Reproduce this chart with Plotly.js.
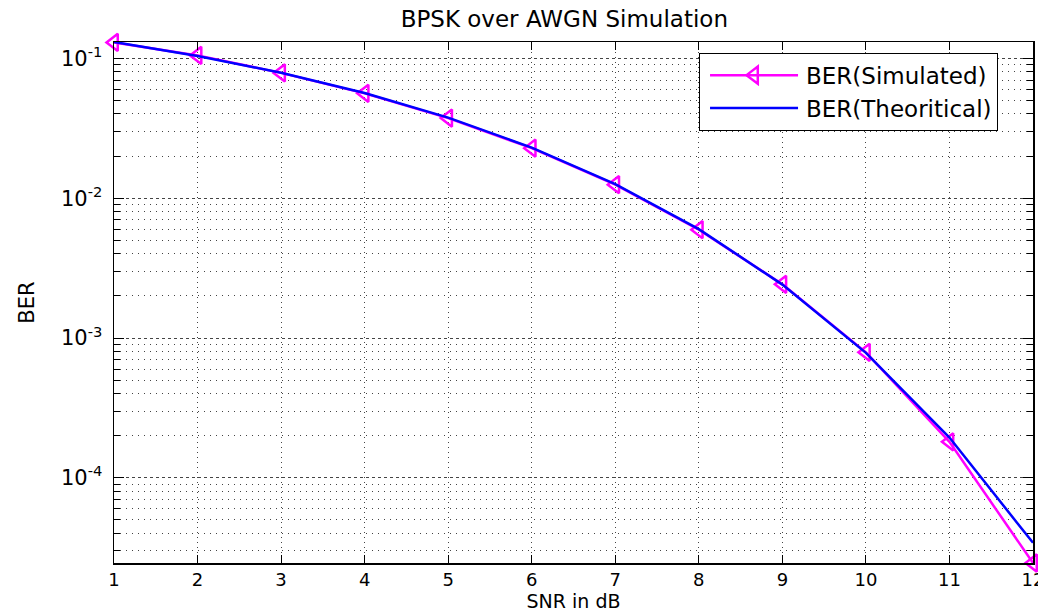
<!DOCTYPE html>
<html>
<head>
<meta charset="utf-8">
<script src="https://cdn.plot.ly/plotly-3.0.1.min.js"></script>
<style>
  html, body { margin: 0; padding: 0; background: #fff; }
  #chart { width: 1038px; height: 615px; }
</style>
</head>
<body>
<div id="chart"></div>
<script>
// ---- data ----
const snrDb = [1, 2, 3, 4, 5, 6, 7, 8, 9, 10, 11, 12];
const berSimulated = [0.1300, 0.1050, 0.0787, 0.0562, 0.0374, 0.0228, 0.0125, 0.00595, 0.00242, 0.00079, 0.000181, 0.0000246];
const berTheoretical = [0.1309, 0.1040, 0.0789, 0.0565, 0.0377, 0.0230, 0.01259, 0.00601, 0.00241, 0.000783, 0.000194, 0.0000343];
const yTickVals = [1e-4, 1e-3, 1e-2, 1e-1];
const yTickText = ['10<sup>-4</sup>', '10<sup>-3</sup>', '10<sup>-2</sup>', '10<sup>-1</sup>'];
const seriesNames = ['BER(Simulated)', 'BER(Theoritical)'];

const minorVals = [];
[-5, -4, -3, -2, -1].forEach(function (e) {
  for (let m = 2; m <= 9; m++) minorVals.push(m * Math.pow(10, e));
});

const FONT = 'DejaVu Sans, Liberation Sans, Arial, sans-serif';

const traces = [
  {
    x: snrDb, y: berSimulated, name: seriesNames[0], type: 'scatter', mode: 'lines+markers',
    line: { color: '#ff00ff', width: 2.5 },
    marker: { symbol: 'triangle-left-open', size: 15, color: '#ff00ff', line: { width: 2.5, color: '#ff00ff' } },
    cliponaxis: false
  },
  {
    x: snrDb, y: berTheoretical, name: seriesNames[1], type: 'scatter', mode: 'lines',
    line: { color: '#0000ff', width: 2.5 },
    cliponaxis: false
  }
];

const gridCol = '#444';
const layout = {
  width: 1038, height: 615,
  margin: { l: 114, r: 5, t: 42, b: 52 },
  paper_bgcolor: '#fff', plot_bgcolor: '#fff',
  font: { family: FONT, size: 20, color: '#000' },
  title: { text: 'BPSK over AWGN Simulation', font: { family: FONT, size: 23, color: '#000' },
           x: 0.49, xref: 'paper', xanchor: 'center', y: 0.97, yref: 'container', yanchor: 'middle' },
  xaxis: {
    range: [1, 12], tickmode: 'array', tickvals: snrDb,
    ticks: 'inside', ticklen: 8, tickwidth: 1, tickcolor: '#000',
    showline: true, linecolor: '#000', linewidth: 1.5, mirror: 'allticks',
    showgrid: true, gridcolor: gridCol, gridwidth: 1, griddash: '1px,4px',
    zeroline: false, ticklabeloverflow: 'allow', ticklabelstandoff: 0,
    tickfont: { family: FONT, size: 18, color: '#000' },
    title: { text: 'SNR in dB', font: { family: FONT, size: 19, color: '#000' }, standoff: 1 }
  },
  yaxis: {
    type: 'log', range: [Math.log10(0.0000246), Math.log10(0.1309)],
    tickmode: 'array', tickvals: yTickVals, ticktext: yTickText,
    ticks: 'inside', ticklen: 10, tickwidth: 1, tickcolor: '#000',
    showline: true, linecolor: '#000', linewidth: 1.5, mirror: 'allticks',
    showgrid: true, gridcolor: gridCol, gridwidth: 1, griddash: '3px,3px',
    zeroline: false,
    ticklabelstandoff: 6,
    tickfont: { family: FONT, size: 21, color: '#000' },
    minor: { tickmode: 'array', tickvals: minorVals, ticks: 'inside', ticklen: 6, tickcolor: '#000',
             showgrid: true, gridcolor: gridCol, gridwidth: 1, griddash: '1px,5px' },
    title: { text: 'BER', font: { family: FONT, size: 21, color: '#000' }, standoff: 20 }
  },
  showlegend: true,
  legend: {
    x: 0.6366, y: 0.9795, xanchor: 'left', yanchor: 'top',
    bgcolor: '#fff', bordercolor: '#000', borderwidth: 1,
    font: { family: FONT, size: 23, color: '#000' },
    itemwidth: 96, tracegroupgap: 0
  }
};

Plotly.newPlot('chart', traces, layout, { displayModeBar: false, staticPlot: true }).then(function () {
  // lengthen the legend line samples the way MATLAB draws them
  document.querySelectorAll('.legend .legendlines path').forEach(function (p) {
    p.setAttribute('d', 'M10,0h88');
  });
  document.querySelectorAll('.legend .legendpoints path.scatterpts').forEach(function (p) {
    p.setAttribute('transform', 'translate(54,0)');
  });
});
</script>
</body>
</html>
